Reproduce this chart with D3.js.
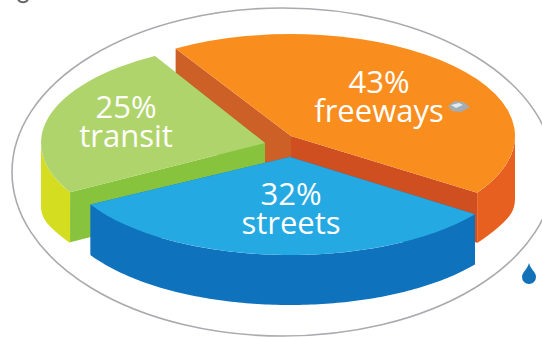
<!DOCTYPE html>
<html>
<head>
<meta charset="utf-8">
<script src="https://cdn.jsdelivr.net/npm/d3@7"></script>
<style>
  html, body { margin: 0; padding: 0; background: #fff; }
  svg { display: block; }
  text { font-family: "Open Sans", sans-serif; fill: #fff; text-anchor: middle; }
</style>
</head>
<body>
<div id="chart"></div>
<script>
// Share of trips by road type
const categories = ["freeways", "streets", "transit"];
const shares = [43, 32, 25];
const topColors = ["#f98e1f", "#25a9e3", "#b0d46c"];
const rimColors = ["#e8601f", "#0f72bd", "#d4dd20"];
const leadCutColors = ["#cc6026", "#0f72bd", "#88c33e"];
const trailCutColors = ["#cf4f20", "#0f72bd", "#88c33e"];

const width = 542, height = 337;
const depth = 50, cornerDrop = 12;
// Each wedge is pulled away from the middle of the pie and drawn on its own ellipse
const hubs = [[291, 136], [290, 157], [265, 143]];
const radiiX = [224, 228, 224];
const radiiY = [102, 98, 100];
const turnDegrees = [0, 2, 1.5];
const labelSpots = [[379, 93, 122], [291, 205, 234], [126, 118, 147]];
const firstAngle = -31 * Math.PI / 180;

const svg = d3.select("#chart").append("svg")
  .attr("width", width).attr("height", height);

// Surrounding ring
svg.append("ellipse")
  .attr("cx", 283).attr("cy", 172).attr("rx", 271).attr("ry", 164)
  .attr("fill", "none").attr("stroke", "#a9abae").attr("stroke-width", 1.6);

const slices = d3.pie().sort(null)
  .startAngle(firstAngle).endAngle(firstAngle + 2 * Math.PI)(shares);

// Drawn back to front so nearer wedges hide the cut faces behind them
[0, 2, 1].forEach(i => {
  const rx = radiiX[i], ry = radiiY[i];
  const turn = turnDegrees[i] * Math.PI / 180;
  const start = slices[i].startAngle + turn;
  const end = slices[i].endAngle + turn;
  const rimX = a => rx * Math.sin(a);
  const rimY = a => -ry * Math.cos(a);
  const g = svg.append("g").attr("transform", `translate(${hubs[i]})`);

  const wall = (a, color) => g.append("path")
    .attr("d", d3.area().x(d => d[0]).y0(d => d[1]).y1(d => d[1] + depth)(
      [[0, 0], [rimX(a), rimY(a)]]))
    .attr("fill", color);
  wall(start, leadCutColors[i]);
  wall(end, trailCutColors[i]);

  // Outer wall: only the part of the rim facing the viewer, with a rounded lower corner
  const from = Math.max(start, Math.PI / 2);
  const to = Math.min(end, 3 * Math.PI / 2);
  if (to > from) {
    const steps = d3.range(0, 121).map(k => from + (to - from) * k / 120);
    const rimArea = d3.area().x(rimX).y0(rimY)
      .y1(a => rimY(a) + depth + cornerDrop * Math.pow(Math.abs(Math.sin(a)), 20));
    g.append("path").attr("d", rimArea(steps)).attr("fill", rimColors[i]);
  }

  g.append("path")
    .attr("transform", `scale(1,${ry / rx})`)
    .attr("d", d3.arc().innerRadius(0).outerRadius(rx)({ startAngle: start, endAngle: end }))
    .attr("fill", topColors[i]);
});

// Percent and category captions
categories.forEach((c, i) => {
  const [x, y1, y2] = labelSpots[i];
  const t = svg.append("text").attr("font-size", 31);
  t.append("tspan").attr("x", x).attr("y", y1).text(shares[i] + "%");
  t.append("tspan").attr("x", x).attr("y", y2).text(c);
});

// Small car beside the freeway caption
svg.append("path")
  .attr("d", "M448,106 L455,101 L463,102 L470,107 L461,112 L452,111 Z")
  .attr("fill", "#a3adb5");
svg.append("path")
  .attr("d", "M451,105 L459,103 L463,105 L456,108 Z")
  .attr("fill", "#e3eaef");

// Water drop at the lower right
svg.append("path")
  .attr("d", "M529,263 C531,270 536,272 536,277 A7,7 0 0 1 522,277 C522,272 527,270 529,263 Z")
  .attr("fill", "#1272b8");

// Foot of a heading letter at the top edge
svg.append("path")
  .attr("d", "M18,0 Q23,4.5 28,0")
  .attr("fill", "none").attr("stroke", "#666").attr("stroke-width", 2);
</script>
</body>
</html>
